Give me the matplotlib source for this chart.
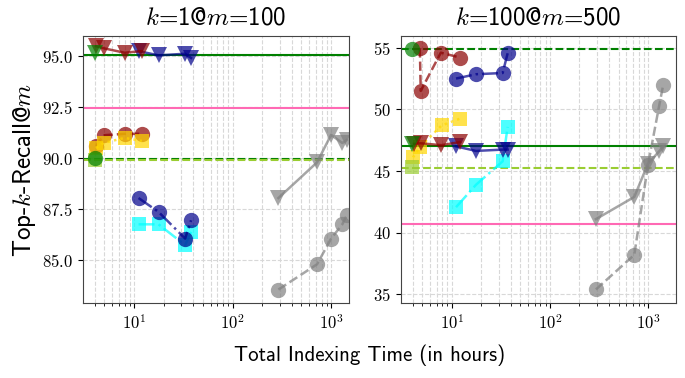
import matplotlib
matplotlib.use("Agg")
import matplotlib.pyplot as plt
from matplotlib.ticker import FormatStrFormatter

plt.rcParams['mathtext.fontset'] = 'cm'
plt.rcParams['font.family'] = 'cmr10'
plt.rcParams['axes.formatter.use_mathtext'] = True

# ---- k=1@m=100 ----
k1_red_x = [4.1, 4.9, 8.0, 12.0]
k1_red_tri = [95.5, 95.4, 95.18, 95.26]
k1_red_circ = [90.6, 91.13, 91.2, 91.2]
k1_gold_sq = [90.5, 90.75, 91.0, 90.85]
k1_blue_x = [11.1, 17.7, 33.0, 37.9]
k1_blue_tri = [95.26, 95.05, 95.13, 94.92]
k1_blue_circ = [88.05, 87.37, 86.06, 86.96]
k1_cyan_sq = [86.76, 86.76, 85.74, 86.39]
k1_gray_x = [292, 720, 1000, 1300, 1440]
k1_gray_tri = [88.05, 89.8, 91.15, 90.75, 90.9]
k1_gray_circ = [83.56, 84.8, 86.06, 86.76, 87.2]
k1_green_x = 4.0
k1_green = {"tri": 95.15, "circ": 90.0, "sq": 89.9}
k1_hlines = {"tri": 95.08, "circ": 89.98, "sq": 89.93, "pink": 92.47}

# ---- k=100@m=500 ----
k100_red_x = [4.7, 4.8, 7.7, 12.1]
k100_red_tri_x = [4.1, 4.8, 7.8, 12.1]
k100_red_tri = [47.2, 47.25, 47.1, 47.35]
k100_red_circ = [54.95, 51.5, 54.6, 54.2]
k100_gold_x = [4.0, 4.7, 7.85, 12.1]
k100_gold_sq = [46.1, 46.95, 48.7, 49.25]
k100_blue_x = [11.0, 17.6, 32.9, 37.0]
k100_blue_tri = [47.0, 46.63, 46.74, 46.74]
k100_blue_circ = [52.5, 52.85, 52.95, 54.55]
k100_cyan_sq = [42.07, 43.89, 45.79, 48.58]
k100_gray_x = [294, 724, 1000, 1300, 1430]
k100_gray_tri = [41.1, 42.9, 45.6, 46.6, 47.0]
k100_gray_circ = [35.4, 38.2, 45.5, 50.3, 52.0]
k100_green_x = 3.95
k100_green = {"tri": 47.2, "circ": 54.9, "sq": 45.3}
k100_hlines = {"tri": 47.05, "circ": 54.9, "sq": 45.25, "pink": 40.7}

A = 0.7


def series(ax, x, y, color, marker, ls, ms=11):
    ax.plot(x, y, color=color, marker=marker, ls=ls, lw=1.8, ms=ms, alpha=A,
            markeredgewidth=0)


def draw_panel(ax, d, title, xlim, ylim, yticks, yfmt):
    ax.axhline(d["hl"]["tri"], color='green', lw=1.5, ls='-', zorder=1)
    ax.axhline(d["hl"]["circ"], color='green', lw=1.5, ls='--', zorder=1)
    ax.axhline(d["hl"]["sq"], color='yellowgreen', lw=1.5, ls='--', zorder=1)
    ax.axhline(d["hl"]["pink"], color='hotpink', lw=1.5, ls='-', zorder=1)

    series(ax, d["gray_x"], d["gray_circ"], 'gray', 'o', '--')
    series(ax, d["gray_x"], d["gray_tri"], 'gray', 'v', '-', 12)
    series(ax, d["blue_x"], d["cyan_sq"], 'cyan', 's', '-.', 10)
    series(ax, d["blue_x"], d["blue_circ"], 'darkblue', 'o', '-.')
    series(ax, d["blue_x"], d["blue_tri"], 'darkblue', 'v', '-', 12)
    series(ax, d["red_x"], d["red_circ"], 'darkred', 'o', '--')
    series(ax, d["gold_x"], d["gold_sq"], 'gold', 's', ':', 10)
    series(ax, d["red_tri_x"], d["red_tri"], 'darkred', 'v', '-', 12)
    series(ax, [d["green_x"]], [d["green"]["sq"]], 'yellowgreen', 's', 'none', 10)
    series(ax, [d["green_x"]], [d["green"]["circ"]], 'green', 'o', 'none')
    series(ax, [d["green_x"]], [d["green"]["tri"]], 'green', 'v', 'none', 12)

    ax.set_xscale('log')
    ax.set_xlim(*xlim)
    ax.set_ylim(*ylim)
    ax.set_yticks(yticks)
    ax.yaxis.set_major_formatter(FormatStrFormatter(yfmt))
    ax.grid(True, which='both', axis='x', ls='--', color='#d8d8d8', lw=0.8)
    ax.grid(True, which='major', axis='y', ls='--', color='#d8d8d8', lw=0.8)
    ax.set_axisbelow(True)
    ax.tick_params(labelsize=12)
    for s in ax.spines.values():
        s.set_color('#444444')
    ax.set_title(title, fontsize=18, family='cmss10', pad=8)


fig = plt.figure(figsize=(6.85, 3.78), dpi=100)
ax1 = fig.add_axes([83 / 685, 75 / 378, 266 / 685, 267 / 378])
ax2 = fig.add_axes([401 / 685, 75 / 378, 275 / 685, 267 / 378])

d1 = dict(red_x=k1_red_x, red_tri_x=k1_red_x, red_tri=k1_red_tri, red_circ=k1_red_circ,
          gold_x=k1_red_x, gold_sq=k1_gold_sq, blue_x=k1_blue_x, blue_tri=k1_blue_tri,
          blue_circ=k1_blue_circ, cyan_sq=k1_cyan_sq, gray_x=k1_gray_x,
          gray_tri=k1_gray_tri, gray_circ=k1_gray_circ, green_x=k1_green_x,
          green=k1_green, hl=k1_hlines)
d2 = dict(red_x=k100_red_x, red_tri_x=k100_red_tri_x, red_tri=k100_red_tri,
          red_circ=k100_red_circ, gold_x=k100_gold_x, gold_sq=k100_gold_sq,
          blue_x=k100_blue_x, blue_tri=k100_blue_tri, blue_circ=k100_blue_circ,
          cyan_sq=k100_cyan_sq, gray_x=k100_gray_x, gray_tri=k100_gray_tri,
          gray_circ=k100_gray_circ, green_x=k100_green_x, green=k100_green,
          hl=k100_hlines)

draw_panel(ax1, d1, r'$k$=1@$m$=100', (3.03, 1520), (82.9, 96.0),
           [85, 87.5, 90, 92.5, 95], r'$%.1f$')
draw_panel(ax2, d2, r'$k$=100@$m$=500', (3.02, 1930), (34.3, 55.95),
           [35, 40, 45, 50, 55], r'$%d$')

ax1.set_ylabel(r'Top-$k$-Recall@$m$', fontsize=18, family='cmss10', labelpad=3)
fig.text(0.54, 0.06, 'Total Indexing Time (in hours)', ha='center', va='center',
         fontsize=15, family='cmss10')

fig.savefig('out.png', dpi=100)
